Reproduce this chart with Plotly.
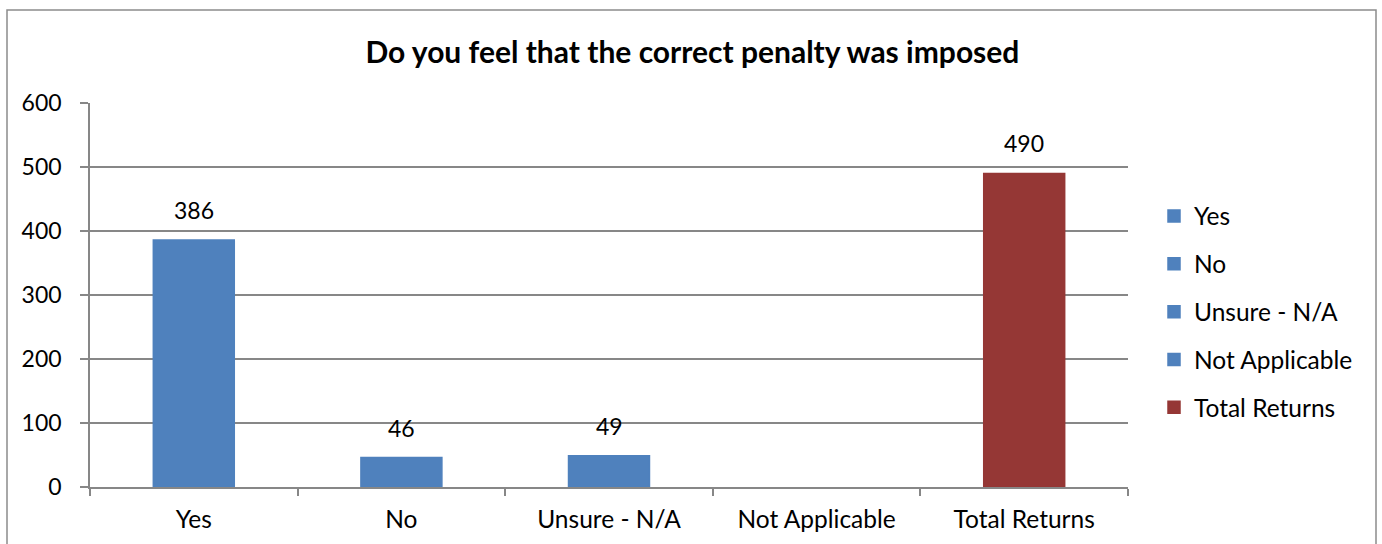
import plotly.graph_objects as go

categories = ["Yes", "No", "Unsure - N/A", "Not Applicable", "Total Returns"]
values = [386, 46, 49, None, 490]
colors = ["#4F81BD", "#4F81BD", "#4F81BD", "#4F81BD", "#953735"]
y_ticks = [0, 100, 200, 300, 400, 500, 600]
title = "Do you feel that the correct penalty was imposed"

FONT = "Lato"
NUM = 23
TXT = 24.5
W, H = 1382, 544
L, R, T, B = 90, 254, 103, 57

fig = go.Figure()
for i, (cat, val, col) in enumerate(zip(categories, values, colors)):
    fig.add_trace(go.Bar(
        x=[cat], y=[val], name=cat, legendgroup=f"g{i}",
        marker=dict(color=col, line=dict(width=1.5, color=col)),
        width=0.39, hoverinfo="x+y",
    ))
    if val is not None:
        fig.add_annotation(x=cat, y=val, text=str(val), showarrow=False,
                           yanchor="bottom", yshift=14,
                           font=dict(family=FONT, size=NUM, color="black"))

pw = W - L - R
ph = H - T - B
fig.add_shape(type="rect", xref="paper", yref="paper",
              x0=(7 - L) / pw, x1=(1376 - L) / pw,
              y0=(H - B - 600) / ph, y1=(H - B - 10) / ph,
              line=dict(color="#8C8C8C", width=1.5), layer="below")

fig.update_layout(
    width=W, height=H,
    margin=dict(l=L, r=R, t=T, b=B),
    paper_bgcolor="white", plot_bgcolor="white",
    barmode="overlay",
    font=dict(family=FONT, size=TXT, color="black"),
    title=dict(text=f"<b>{title}</b>", x=0.501, xref="container", xanchor="center",
               y=1 - 52 / H, yref="container", yanchor="middle",
               font=dict(family=FONT, size=30, color="black")),
    showlegend=True,
    legend=dict(x=(1154 - L) / pw, xanchor="left", y=(H - B - 312) / ph, yanchor="middle",
                font=dict(family=FONT, size=TXT), tracegroupgap=13,
                bgcolor="rgba(0,0,0,0)"),
    xaxis=dict(categoryorder="array", categoryarray=categories,
               showline=True, linecolor="#878787", linewidth=1.5,
               ticks="outside", tickson="boundaries", ticklen=7, tickcolor="#878787",
               tickwidth=1.5, showgrid=False, ticklabelstandoff=10,
               tickfont=dict(family=FONT, size=TXT)),
    yaxis=dict(range=[0, 600], tickvals=y_ticks, showline=True, linecolor="#878787",
               linewidth=1.5, ticks="outside", ticklen=8, tickcolor="#878787", tickwidth=1.5,
               showgrid=True, gridcolor="#878787", gridwidth=1.5, zeroline=False,
               ticklabelstandoff=14, tickfont=dict(family=FONT, size=NUM)),
)

fig.write_html("out.html")
